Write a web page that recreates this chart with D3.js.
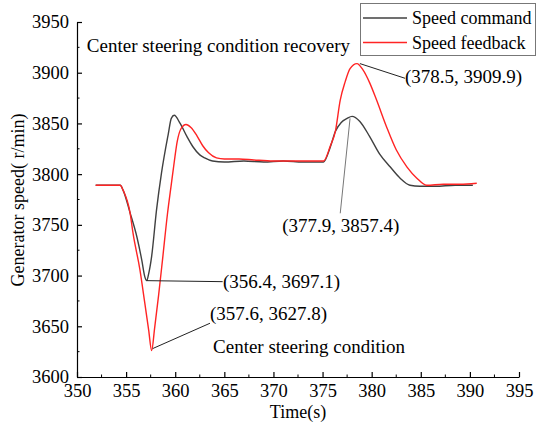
<!DOCTYPE html>
<html><head><meta charset="utf-8">
<script src="https://cdn.jsdelivr.net/npm/d3@7"></script>
<style>body{margin:0;background:#fff}svg{display:block}svg text{font-family:"Times New Roman","Liberation Serif","DejaVu Serif",serif !important;fill:#000}</style>
</head><body>
<script>
// Data
const cmdX = [351.9,354.4,354.7,355.4,356.1,356.6,356.9,357.1,357.3,357.6,358.1,358.6,359.3,359.6,359.9,360.5,361.2,361.8,362.5,363.0,363.8,365,367,369,371,373,375.1,375.8,376.3,376.9,377.5,378.0,378.8,379.8,380.8,381.9,382.9,383.9,384.9,386.5,388.5,390.3];
const cmdY = [3789,3789,3784,3762,3738,3715,3699,3695,3702,3719,3765,3801,3840,3855,3858,3850,3837,3827,3819,3816,3813,3812,3813,3812,3813,3812,3812,3827,3842,3851,3855,3857,3852,3837,3820,3807,3796,3789,3788,3788,3789,3789];
const fbX = [351.9,354.4,354.7,355.4,355.7,356.4,356.9,357.3,357.6,357.9,358.3,358.7,359.2,359.6,359.9,360.2,360.6,361.1,361.6,362.2,362.8,363.4,364.2,365,366.5,368,370,372,375.1,375.8,376.3,376.8,377.3,377.8,378.5,379.1,379.8,380.5,381.5,382.5,383.6,384.6,385.6,387.3,389,390.7];
const fbY = [3789,3789,3784,3762,3742,3706,3673,3646,3626,3648,3680,3715,3760,3790,3812,3832,3845,3849,3846,3838,3828,3821,3816,3815,3815,3814,3813,3813,3813,3828,3842,3873,3891,3904,3909,3903,3890,3873,3847,3824,3807,3796,3789,3790,3790,3791];
const seriesNames = ["Speed command","Speed feedback"];
const xTicks = [350,355,360,365,370,375,380,385,390,395];
const yTicks = [3600,3650,3700,3750,3800,3850,3900,3950];
const annotations = [
  {label:"(356.4, 3697.1)", px:357.1, py:3695, lx:364.83, ly:3694, tx:364.86, ty:3687.7, color:"#222"},
  {label:"(357.6, 3627.8)", px:357.7, py:3628, lx:363.54, ly:3653, tx:363.54, ty:3656.2, color:"#222"},
  {label:"(378.5, 3909.9)", px:378.8, py:3909, lx:383.4, ly:3894.5, tx:383.4, ty:3889.9, color:"#222"},
  {label:"(377.9, 3857.4)", px:377.8, py:3855, lx:376.8, ly:3761.4, tx:370.9, ty:3743, color:"#777"}
];
const notes = [
  {label:"Center steering condition recovery", tx:351.0, ty:3920.4},
  {label:"Center steering condition", tx:363.85, ty:3623.7}
];

const FONT='"Times New Roman","Liberation Serif","DejaVu Serif",serif';
const W=537,H=426;
const svg=d3.select("body").append("svg").attr("width",W).attr("height",H).attr("font-family",FONT);
const x=d3.scaleLinear().domain([350,395]).range([77,519]);
const y=d3.scaleLinear().domain([3600,3950]).range([377,22]);

// minor ticks
const xMinor=d3.range(352.5,395,5), yMinor=d3.range(3625,3950,50);
const g=svg.append("g");
g.selectAll(".xm").data(xMinor).join("line").attr("x1",d=>x(d)).attr("x2",d=>x(d)).attr("y1",377).attr("y2",374.5).attr("stroke","#000");
g.selectAll(".ym").data(yMinor).join("line").attr("y1",d=>y(d)).attr("y2",d=>y(d)).attr("x1",77).attr("x2",79.5).attr("stroke","#000");

const fmt=d3.format("d");
const xAxis=svg.append("g").attr("transform","translate(0,377)")
  .call(d3.axisBottom(x).tickValues(xTicks).tickFormat(fmt).tickSizeInner(-5).tickSizeOuter(0).tickPadding(7));
const yAxis=svg.append("g").attr("transform","translate(77,0)")
  .call(d3.axisLeft(y).tickValues(yTicks).tickFormat(fmt).tickSizeInner(-5).tickSizeOuter(0).tickPadding(8));
[xAxis,yAxis].forEach(a=>{a.attr("font-family",FONT).attr("font-size",18.5);
  a.selectAll("path,line").attr("stroke","#000").attr("stroke-width",1.2);
  a.selectAll("text").attr("fill","#000");});

svg.append("text").attr("x",298).attr("y",418).attr("text-anchor","middle").attr("font-size",18).text("Time(s)");
svg.append("text").attr("transform","translate(24,200) rotate(-90)").attr("text-anchor","middle").attr("font-size",18).text("Generator speed( r/min)");

const line=d3.line().x(d=>x(d[0])).y(d=>y(d[1])).curve(d3.curveMonotoneX);
svg.append("path").datum(d3.zip(cmdX,cmdY)).attr("d",line).attr("fill","none").attr("stroke","#404040").attr("stroke-width",1.4);
svg.append("path").datum(d3.zip(fbX,fbY)).attr("d",line).attr("fill","none").attr("stroke","#ff2424").attr("stroke-width",1.4);

// annotations
annotations.forEach(a=>{
  svg.append("line").attr("x1",x(a.px)).attr("y1",y(a.py)).attr("x2",x(a.lx)).attr("y2",y(a.ly)).attr("stroke",a.color).attr("stroke-width",1);
  svg.append("text").attr("x",x(a.tx)).attr("y",y(a.ty)).attr("font-size",19).text(a.label);
});
notes.forEach(n=>svg.append("text").attr("x",x(n.tx)).attr("y",y(n.ty)).attr("font-size",19).text(n.label));

// legend
const lg=svg.append("g");
lg.append("rect").attr("x",360.5).attr("y",3.5).attr("width",175).attr("height",52).attr("fill","#fff").attr("stroke","#777").attr("stroke-width",1);
const colors=["#404040","#ff2424"];
seriesNames.forEach((s,i)=>{
  const yy=18+i*24.5;
  lg.append("line").attr("x1",363).attr("x2",407).attr("y1",yy).attr("y2",yy).attr("stroke",colors[i]).attr("stroke-width",1.4);
  lg.append("text").attr("x",412).attr("y",yy+6).attr("font-size",18).text(s);
});
</script>
</body></html>
